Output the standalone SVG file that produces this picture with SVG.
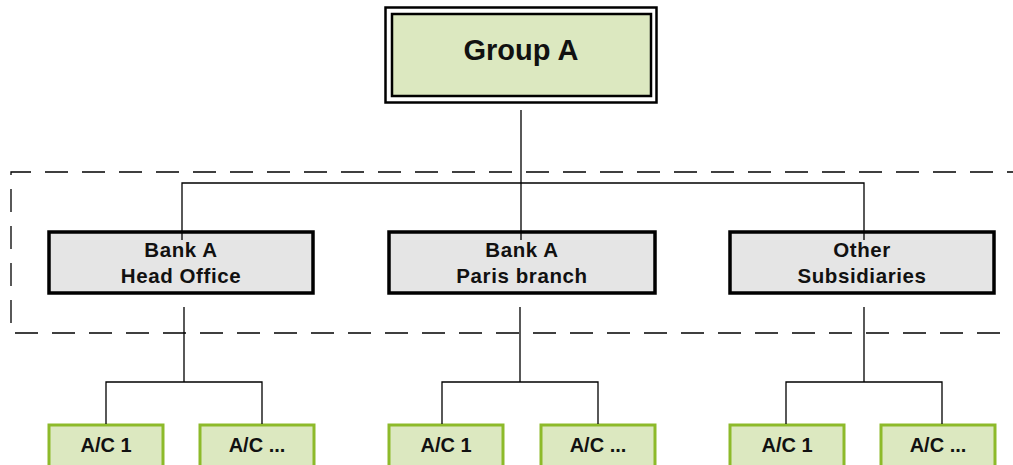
<svg xmlns="http://www.w3.org/2000/svg" width="1013" height="465" viewBox="0 0 1013 465">
<style>
.t{font-family:"Liberation Sans",Arial,sans-serif;font-weight:bold;fill:#111;text-anchor:middle}
.ls{letter-spacing:0.6px}
.mid{fill:#E5E5E5;stroke:#000;stroke-width:3.5}
.acc{fill:#DCE8C0;stroke:#8DBA2A;stroke-width:3}
.ln{fill:none;stroke:#000;stroke-width:1.3}
</style>
<rect width="1013" height="465" fill="#fff"/>
<g id="scope">
<path d="M1030,172 H11 V333 H1030" fill="none" stroke="#000" stroke-width="1.3" stroke-dasharray="23,14"/>
</g>
<g id="groupA">
<rect x="385.5" y="7.5" width="271" height="95" fill="#fff" stroke="#000" stroke-width="2.5"/>
<rect x="392" y="14" width="259" height="82" fill="#DCE8C0" stroke="#000" stroke-width="2.5"/>
<text class="t" x="521" y="60" font-size="29">Group A</text>
</g>
<g id="bankHO">
<rect class="mid" x="49" y="232" width="264" height="61"/>
<text class="t ls" x="181" y="257" font-size="20.5">Bank A</text>
<text class="t ls" x="181" y="283" font-size="20.5">Head Office</text>
</g>
<g id="bankParis">
<rect class="mid" x="389" y="232" width="266" height="61"/>
<text class="t ls" x="522" y="257" font-size="20.5">Bank A</text>
<text class="t ls" x="522" y="283" font-size="20.5">Paris branch</text>
</g>
<g id="otherSubs">
<rect class="mid" x="730" y="232" width="264" height="61"/>
<text class="t ls" x="862" y="257" font-size="20.5">Other</text>
<text class="t ls" x="862" y="283" font-size="20.5">Subsidiaries</text>
</g>
<g id="ho_ac1"><rect class="acc" x="49" y="425" width="114" height="50"/><text class="t" x="106" y="452" font-size="20">A/C 1</text></g>
<g id="ho_acn"><rect class="acc" x="200" y="425" width="114" height="50"/><text class="t" x="257" y="452" font-size="20">A/C ...</text></g>
<g id="pb_ac1"><rect class="acc" x="389" y="425" width="114" height="50"/><text class="t" x="446" y="452" font-size="20">A/C 1</text></g>
<g id="pb_acn"><rect class="acc" x="541" y="425" width="114" height="50"/><text class="t" x="598" y="452" font-size="20">A/C ...</text></g>
<g id="os_ac1"><rect class="acc" x="730" y="425" width="114" height="50"/><text class="t" x="787" y="452" font-size="20">A/C 1</text></g>
<g id="os_acn"><rect class="acc" x="881" y="425" width="114" height="50"/><text class="t" x="938" y="452" font-size="20">A/C ...</text></g>
<g id="connectors" class="ln">
<path class="ln" d="M521,110 V183 M182,240 V183 H864 V240 M521,183 V240"/>
<path class="ln" d="M184,307 V382 M106,424 V382 H262 V424"/>
<path class="ln" d="M520,307 V382 M442,424 V382 H598 V424"/>
<path class="ln" d="M864,307 V382 M786,424 V382 H942 V424"/>
</g>
</svg>
